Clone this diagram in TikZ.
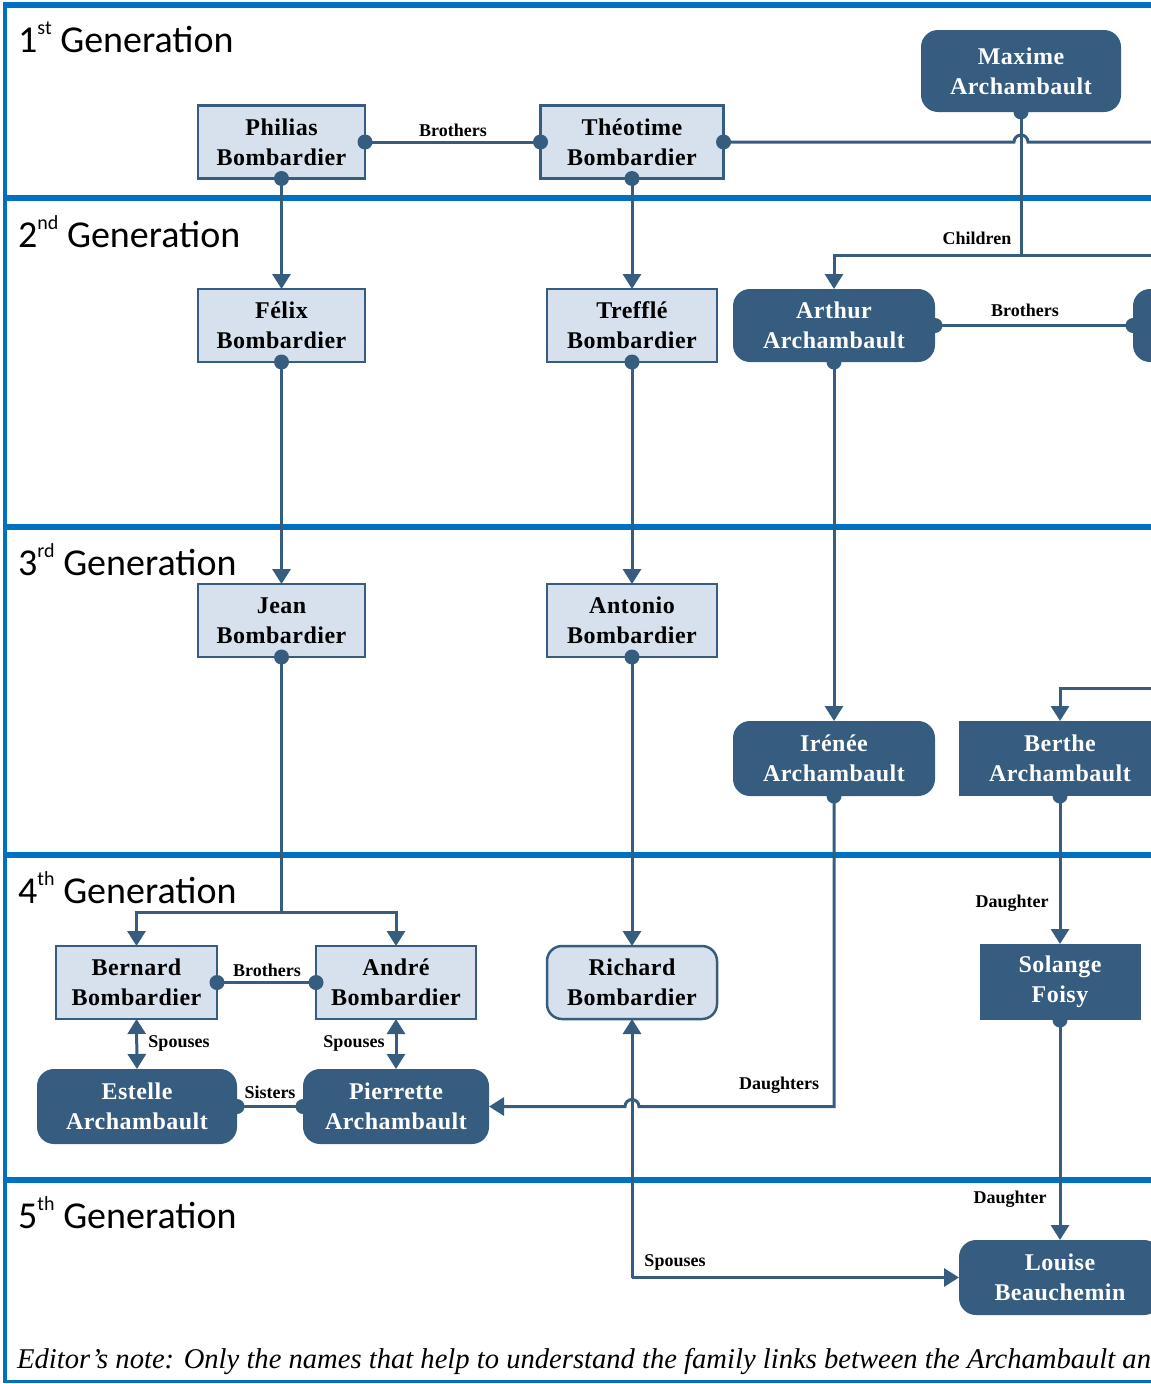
\documentclass[tikz,border=0pt]{standalone}
\usepackage{fontspec}
\setmainfont{Liberation Serif}
\newfontfamily\genfont{Carlito}
\newfontfamily\namefont[LetterSpace=2]{Liberation Serif}
\usetikzlibrary{arrows.meta,calc}
\definecolor{lane}{HTML}{0070C0}
\definecolor{dk}{HTML}{365C7F}
\definecolor{lt}{HTML}{D6E1ED}
\newcommand\gsup[1]{\raisebox{18pt}{\fontsize{20}{20}\selectfont #1}}
\begin{document}
\begin{tikzpicture}[x=1pt,y=-1pt,
  basebox/.style={minimum width=#1, inner sep=0pt, outer sep=0pt, align=center,
    font=\namefont\fontsize{24}{30}\selectfont\bfseries},
  lightbox/.style={basebox=#1, draw=dk, line width=2.5pt, fill=lt, text=black, minimum height=73pt},
  lightbox/.default=167pt,
  lightround/.style={lightbox=#1, rounded corners=15pt},
  darkbox/.style={basebox=#1, fill=dk, text=white, minimum height=75pt, rounded corners=17pt},
  darkbox/.default=202pt,
  darksq/.style={basebox=#1, fill=dk, text=white, minimum height=75pt},
  conn/.style={draw=dk, line width=3pt},
  arr/.style={-{Triangle[width=18pt,length=15pt]}},
  dblarr/.style={{Triangle[width=18pt,length=15pt]}-{Triangle[width=18pt,length=15pt]}},
  lbl/.style={font=\fontsize{18}{18}\selectfont\bfseries, inner sep=0pt, text=black},
  gen/.style={font=\genfont\fontsize{38}{38}\selectfont, anchor=base west, inner sep=0pt},
  lanes/.style={draw=lane, line width=5.5pt},
]
\useasboundingbox (0,0) rectangle (1151,1384);
\clip (0,0) rectangle (1151,1384);

% swimlane frame
\draw[lanes, line width=4pt] (5,3) -- (5,1381);
\draw[lanes] (3,5) -- (1160,5);
\draw[lanes] (3,198) -- (1160,198);
\draw[lanes] (3,527) -- (1160,527);
\draw[lanes] (3,855) -- (1160,855);
\draw[lanes] (3,1180) -- (1160,1180);
\draw[lanes, line width=3pt] (3,1381) -- (1160,1381);

% generation titles
\node[gen] (g1) at (18,52) {1\gsup{st} Generation};
\node[gen] (g2) at (18,247) {2\gsup{nd} Generation};
\node[gen] (g3) at (18,575) {3\gsup{rd} Generation};
\node[gen] (g4) at (18,903) {4\gsup{th} Generation};
\node[gen] (g5) at (18,1228) {5\gsup{th} Generation};

% nodes
\node[lightbox] (phil) at (281.5,142) {Philias\\Bombardier};
\node[lightbox=183pt] (theo) at (632,142) {Théotime\\Bombardier};
\node[darkbox=200pt, minimum height=82pt] (maxime) at (1021,71) {Maxime\\Archambault};
\node[lightbox] (felix) at (281.5,325.5) {Félix\\Bombardier};
\node[lightbox=170pt] (treffle) at (632,325.5) {Trefflé\\Bombardier};
\node[darkbox, minimum height=73pt] (arthur) at (834,325.5) {Arthur\\Archambault};
\node[darkbox, minimum height=73pt] (arthurbro) at (1234,325.5) {};
\node[lightbox] (jean) at (281.5,620.5) {Jean\\Bombardier};
\node[lightbox=170pt] (antonio) at (632,620.5) {Antonio\\Bombardier};
\node[darkbox] (irenee) at (834,758.5) {Irénée\\Archambault};
\node[darksq=202pt] (berthe) at (1060,758.5) {Berthe\\Archambault};
\node[lightbox=161pt] (bernard) at (136.5,982.5) {Bernard\\Bombardier};
\node[lightbox=160pt] (andre) at (396,982.5) {André\\Bombardier};
\node[lightround=170pt] (richard) at (632,982.5) {Richard\\Bombardier};
\node[darksq=161pt, minimum height=76pt] (solange) at (1060,982) {Solange\\Foisy};
\node[darkbox=200pt] (estelle) at (137,1106.5) {Estelle\\Archambault};
\node[darkbox=186pt] (pierrette) at (396,1106.5) {Pierrette\\Archambault};
\node[darkbox] (louise) at (1060,1277.5) {Louise\\Beauchemin};

% free ends and junctions
\coordinate (theoR) at (1160,142);
\coordinate (mjunc) at ($(maxime.south)+(0,143)$);
\coordinate (childR) at (1160,255);
\coordinate (bertheIn) at (1160,688);
\coordinate (jjunc) at ($(jean.south)+(0,255)$);
\coordinate (djunc) at (irenee.south |- pierrette.east);
\coordinate (sjunc) at (richard.south |- louise.west);

% connectors
\draw[conn] (phil.east) -- (theo.west);
\draw[conn] (theo.east) -- ($(maxime.south |- theo.east)+(-7,0)$) arc[start angle=180, end angle=0, radius=7pt] -- (theoR);
\draw[conn] (maxime.south) -- (mjunc) -- (childR);
\draw[conn, arr] (mjunc) -| (arthur.north);
\draw[conn, arr] (phil.south) -- (felix.north);
\draw[conn, arr] (theo.south) -- (treffle.north);
\draw[conn] (arthur.east) -- (arthurbro.west);
\draw[conn, arr] (felix.south) -- (jean.north);
\draw[conn, arr] (treffle.south) -- (antonio.north);
\draw[conn, arr] (arthur.south) -- (irenee.north);
\draw[conn, arr] (bertheIn) -| (berthe.north);
\draw[conn] (jean.south) -- (jjunc);
\draw[conn, arr] (jjunc) -| (bernard.north);
\draw[conn, arr] (jjunc) -| (andre.north);
\draw[conn] (bernard.east) -- (andre.west);
\draw[conn, arr] (antonio.south) -- (richard.north);
\draw[conn, arr] (berthe.south) -- (solange.north);
\draw[conn, arr] (irenee.south) -- (djunc) -- ($(richard.south |- djunc)+(7,0)$) arc[start angle=0, end angle=180, radius=7pt] -- (pierrette.east);
\draw[conn, dblarr] (bernard.south) -- (estelle.north);
\draw[conn, dblarr] (andre.south) -- (pierrette.north);
\draw[conn] (estelle.east) -- (pierrette.west);
\draw[conn, arr] (solange.south) -- (louise.north);
\draw[conn, arr] (sjunc) -- (richard.south);
\draw[conn, arr] (sjunc) -- (louise.west);

% start dots
\foreach \p in {phil.east, phil.south, theo.west, theo.east, theo.south, maxime.south,
  felix.south, treffle.south, arthur.east, arthur.south, arthurbro.west,
  jean.south, antonio.south, irenee.south, berthe.south,
  bernard.east, andre.west, solange.south, estelle.east, pierrette.west}
  \fill[dk] (\p) circle (7.5pt);

% connector labels
\node[lbl] (l1) at (453,130) {Brothers};
\node[lbl] (l2) at (977,238) {Children};
\node[lbl] (l3) at (1025,310) {Brothers};
\node[lbl] (l4) at (267,970) {Brothers};
\node[lbl] (l5) at (1012,903) {Daughter};
\node[lbl] (l6) at (179,1043) {Spouses};
\node[lbl] (l7) at (354,1043) {Spouses};
\node[lbl] (l8) at (270,1092) {Sisters};
\node[lbl] (l9) at (779,1085) {Daughters};
\node[lbl] (l10) at (1010,1199) {Daughter};
\node[lbl] (l11) at (675,1262) {Spouses};

% note
\node[font=\itshape\fontsize{28.6}{28.6}\selectfont, anchor=base west, inner sep=0pt] (note) at (17,1368)
  {Editor’s note: Only the names that help to understand the family links between the Archambault and};
\end{tikzpicture}
\end{document}
